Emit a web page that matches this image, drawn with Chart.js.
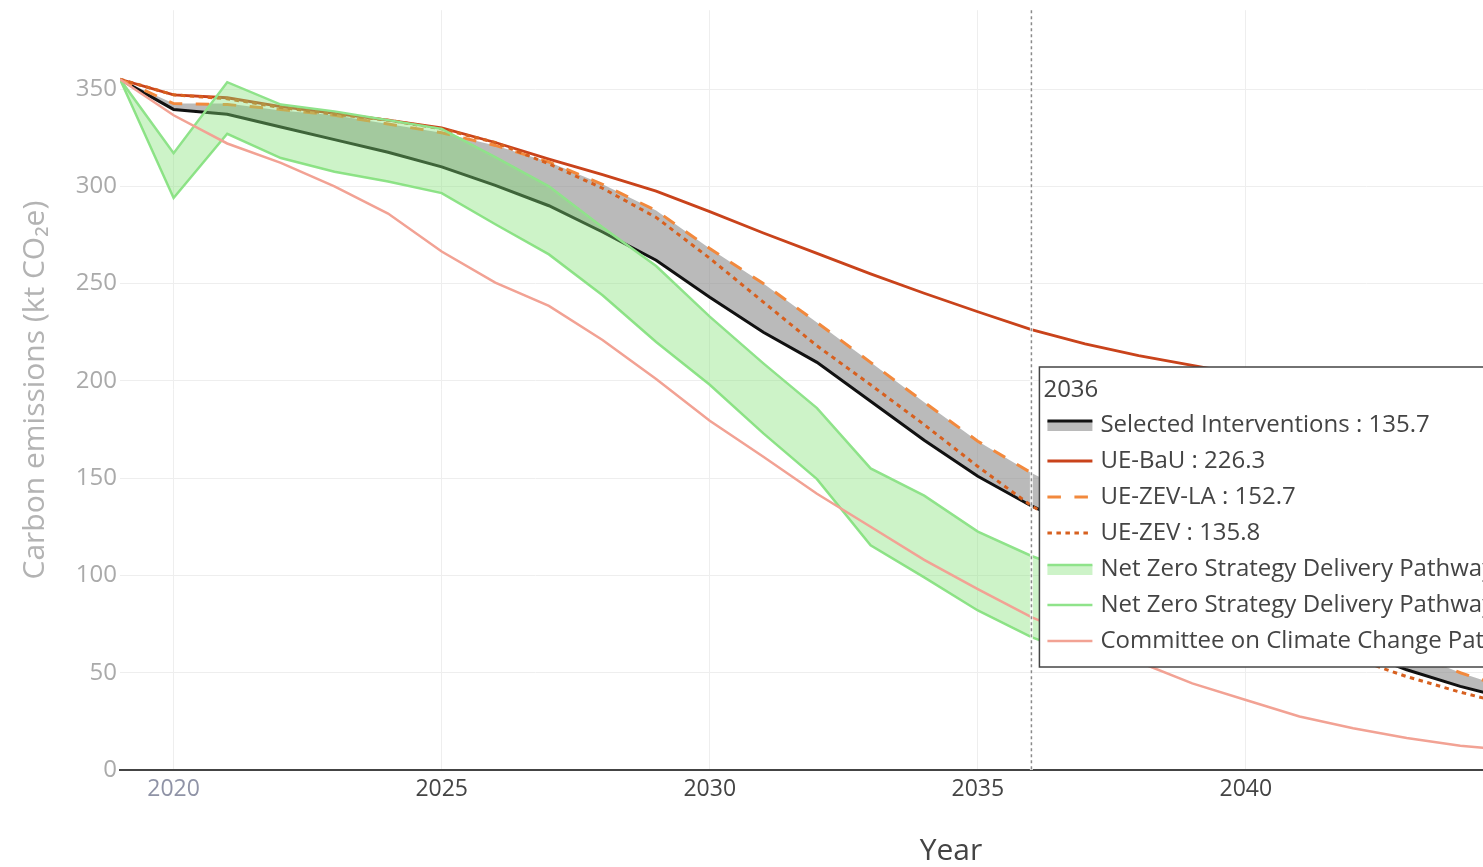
<!DOCTYPE html>
<html>
<head>
<meta charset="utf-8">
<script src="https://cdn.jsdelivr.net/npm/chart.js@4"></script>
<style>
  html, body { margin: 0; padding: 0; background: #fff; overflow: hidden; }
  #wrap { position: relative; width: 1800px; height: 867px; }
</style>
</head>
<body>
<div id="wrap"><canvas id="emissions" width="1800" height="867"></canvas></div>
<script>
const years = [2019, 2020, 2021, 2022, 2023, 2024, 2025, 2026, 2027, 2028, 2029, 2030, 2031, 2032,
    2033, 2034, 2035, 2036, 2037, 2038, 2039, 2040, 2041, 2042, 2043, 2044, 2045]

// grey band: black line is the low edge, the high edge has no line
const selectedLow = [355, 339.5, 337, 330.5, 324, 317.5, 310, 300.5, 290, 276.5, 262, 243, 225, 209.5,
    189.5, 169.5, 151, 135.7, 123, 110, 98, 86, 74, 62, 51.5, 43, 36]
const selectedHigh = [355, 342.5, 342.5, 339, 336.5, 332, 327.5, 321, 312.5, 301, 287.5, 268, 250, 230,
    209.5, 189, 169, 152.7, 139, 125, 112, 99, 86, 73.5, 61, 50, 41]

const ueBau = [355, 347, 345.5, 341, 337.5, 334, 330, 322.5, 314, 306, 297.5, 287, 276, 265.5,
    255, 245, 235.5, 226.3, 219, 213, 208, 203, 198.5, 194, 190, 186, 182]
const ueZevLa = [355, 342.5, 342, 339.5, 336.5, 332, 327.5, 321, 312.5, 301, 287.5, 268, 250, 230,
    209.5, 189, 169, 152.7, 139, 125, 112, 99, 86, 73.5, 61, 50, 41]
const ueZev = [355, 347, 345, 340.5, 337, 334, 329.5, 322.5, 311.5, 299, 284, 263, 240.5, 218,
    198, 177.5, 156, 135.8, 120, 105, 92, 80, 68.5, 57.5, 48, 40, 33]

// Net Zero Strategy delivery pathway only runs to 2037
const nzYears = years.slice(0, 19)
const nzHigh = [355, 317, 353.5, 342, 338.5, 334, 329.5, 315, 300, 279, 259, 233, 209, 186,
    155, 141, 122.5, 110, 100]
const nzLow = [355, 294, 327, 314.5, 307.5, 302.5, 296.5, 280.5, 265, 244, 220, 198, 173, 149.5,
    115.5, 99, 82, 68.3, 58]

const ccc = [355, 336.5, 322, 312, 300, 286, 266.5, 250.5, 238.5, 221, 201, 179.5, 161, 142,
    125, 108, 93, 78.6, 67, 55.5, 44.5, 36, 27.5, 21.5, 16.5, 12.5, 10]

const xTicks = [2020, 2025, 2030, 2035, 2040, 2045]
const yTicks = [0, 50, 100, 150, 200, 250, 300, 350]
const hoverYear = 2036

const pts = (xs, ys) => xs.map((x, i) => ({ x: x, y: ys[i] }))

Chart.defaults.font.family = '"Open Sans", sans-serif'

const datasets = [
    { label: 'Selected Interventions (high)', data: pts(years, selectedHigh), borderWidth: 0,
        pointRadius: 0, fill: false, order: 8 },
    { label: 'Selected Interventions', data: pts(years, selectedLow), borderColor: '#111',
        borderWidth: 3, pointRadius: 0, fill: '-1', backgroundColor: 'rgba(140,140,140,0.6)', order: 7 },
    { label: 'UE-BaU', data: pts(years, ueBau), borderColor: '#c9431b', borderWidth: 2.8,
        pointRadius: 0, fill: false, order: 6 },
    { label: 'UE-ZEV-LA', data: pts(years, ueZevLa), borderColor: '#f2893d', borderWidth: 3,
        borderDash: [13.5, 13.5], pointRadius: 0, fill: false, order: 5 },
    { label: 'UE-ZEV', data: pts(years, ueZev), borderColor: '#d7601f', borderWidth: 3,
        borderDash: [4.5, 4.5], pointRadius: 0, fill: false, order: 4 },
    { label: 'Net Zero Strategy Delivery Pathway', data: pts(nzYears, nzLow), borderColor: '#8fe38a',
        borderWidth: 2.5, pointRadius: 0, fill: false, order: 3 },
    { label: 'Net Zero Strategy Delivery Pathway', data: pts(nzYears, nzHigh), borderColor: '#8fe38a',
        borderWidth: 2.5, pointRadius: 0, fill: '-1', backgroundColor: 'rgba(130,226,118,0.4)', order: 2 },
    { label: 'Committee on Climate Change Pathway', data: pts(years, ccc), borderColor: '#f2a294',
        borderWidth: 2.5, pointRadius: 0, fill: false, order: 1 }
]

// order of rows in the hover label
const hoverRows = [1, 2, 3, 4, 6, 5, 7]

const hoverBox = {
    id: 'hoverBox',
    afterDraw(chart) {
        const { ctx, chartArea } = chart
        const xs = chart.scales.x
        const idx = years.indexOf(hoverYear)
        const px = xs.getPixelForValue(hoverYear)

        // spike line
        ctx.save()
        ctx.strokeStyle = 'rgba(255,255,255,0.8)'
        ctx.lineWidth = 3
        ctx.beginPath()
        ctx.moveTo(px, chartArea.top)
        ctx.lineTo(px, chartArea.bottom)
        ctx.stroke()
        ctx.strokeStyle = '#8a8a8a'
        ctx.lineWidth = 1.5
        ctx.setLineDash([3, 3])
        ctx.stroke()
        ctx.setLineDash([])

        const left = px + 8
        const top = 367
        const rowH = 36
        const height = 300
        ctx.font = '24px "Open Sans"'
        const texts = hoverRows.map(r => {
            const ds = chart.data.datasets[r]
            const v = ds.data[idx]
            return ds.label + ' : ' + (v ? v.y.toFixed(1) : '')
        })
        const width = 70 + Math.max(...texts.map(t => ctx.measureText(t).width))
        ctx.fillStyle = '#fff'
        ctx.fillRect(left, top, width, height)
        ctx.strokeStyle = '#444'
        ctx.lineWidth = 1.5
        ctx.strokeRect(left, top, width, height)

        ctx.fillStyle = '#444'
        ctx.textBaseline = 'middle'
        ctx.fillText(String(hoverYear), left + 4, top + 23)

        hoverRows.forEach((r, k) => {
            const ds = chart.data.datasets[r]
            const cy = top + 58 + k * rowH
            const x0 = left + 8
            let ly = cy
            if (ds.fill) {
                ly = cy - 4
                ctx.fillStyle = ds.backgroundColor
                ctx.fillRect(x0, ly, 45, 10)
            }
            ctx.strokeStyle = ds.borderColor
            ctx.lineWidth = ds.borderWidth
            ctx.setLineDash(ds.borderDash || [])
            ctx.beginPath()
            ctx.moveTo(x0, ly)
            ctx.lineTo(x0 + 45, ly)
            ctx.stroke()
            ctx.setLineDash([])
            ctx.fillStyle = '#444'
            ctx.fillText(texts[k], left + 61, cy)
        })
        ctx.restore()
    }
}

new Chart(document.getElementById('emissions'), {
    type: 'line',
    data: { datasets: datasets },
    options: {
        responsive: false,
        animation: false,
        devicePixelRatio: 1,
        layout: { padding: { top: 8, right: 18, left: 0, bottom: 0 } },
        elements: { line: { tension: 0 } },
        scales: {
            x: {
                type: 'linear',
                min: 2019,
                max: 2050,
                afterBuildTicks: axis => { axis.ticks = xTicks.map(v => ({ value: v })) },
                afterFit: scale => { scale.height = 97 },
                ticks: {
                    callback: v => String(v),
                    color: c => (c.tick && c.tick.value === 2020) ? '#8f93a6' : '#444',
                    font: { size: 23 },
                    padding: 6,
                    maxRotation: 0
                },
                grid: { color: '#eee', drawTicks: false },
                border: { color: '#444', width: 2 },
                title: {
                    display: true,
                    text: 'Year',
                    color: '#444',
                    font: { size: 30 },
                    padding: { top: 0, bottom: -2 }
                }
            },
            y: {
                min: 0,
                max: 390.5,
                afterBuildTicks: axis => { axis.ticks = yTicks.map(v => ({ value: v })) },
                afterFit: scale => { scale.width = 120 },
                ticks: {
                    color: '#aaa',
                    font: { size: 24, lineHeight: 0.6 },
                    padding: 3
                },
                grid: { color: '#eee', drawTicks: false },
                border: { display: false },
                title: {
                    display: true,
                    text: 'Carbon emissions (kt CO₂e)',
                    color: '#b3b3b3',
                    font: { size: 30 },
                    padding: { top: 17, bottom: 0 }
                }
            }
        },
        plugins: {
            legend: { display: false },
            tooltip: { enabled: false }
        }
    },
    plugins: [hoverBox]
})
</script>
</body>
</html>
